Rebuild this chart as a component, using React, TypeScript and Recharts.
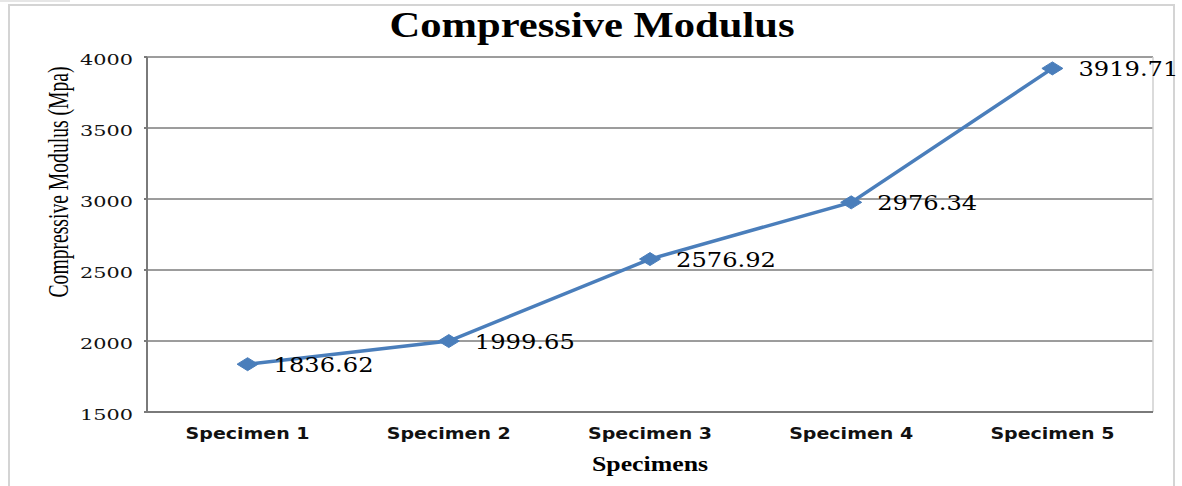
import React from 'react';
import {
    LineChart,
    Line,
    XAxis,
    YAxis,
    CartesianGrid,
    LabelList,
    Customized,
} from 'recharts';

const specimens = ['Specimen 1', 'Specimen 2', 'Specimen 3', 'Specimen 4', 'Specimen 5'];
const modulus = [1836.62, 1999.65, 2576.92, 2976.34, 3919.71];
const yTicks = [1500, 2000, 2500, 3000, 3500, 4000];

const data = specimens.map((name, i) => ({ name, modulus: modulus[i] }));

const BLUE = '#4a7ebb';
const SERIF = '"Liberation Serif", "DejaVu Serif", serif';
const NUM = '"DejaVu Serif", "Liberation Serif", serif';
const SANS = '"DejaVu Sans", Verdana, sans-serif';

const YTick = (props: any) => {
    const { x, y, payload } = props;
    return (
        <text
            x={x}
            y={y + 8}
            textAnchor="end"
            fontFamily={NUM}
            fontSize={15}
            fill="#111"
            textLength={53}
            lengthAdjust="spacingAndGlyphs"
        >
            {payload.value}
        </text>
    );
};

const XTick = (props: any) => {
    const { x, payload } = props;
    return (
        <text
            x={x - 62}
            y={439}
            fontFamily={SANS}
            fontWeight="bold"
            fontSize={15.5}
            fill="#111"
            textLength={124}
            lengthAdjust="spacingAndGlyphs"
        >
            {payload.value}
        </text>
    );
};

const Diamond = (props: any) => {
    const { cx, cy, index } = props;
    if (cx == null || cy == null) return <g key={index} />;
    return (
        <path
            key={index}
            d={`M${cx - 10.5},${cy} L${cx},${cy - 6.5} L${cx + 10.5},${cy} L${cx},${cy + 6.5} Z`}
            fill={BLUE}
            stroke={BLUE}
            strokeWidth={1}
        />
    );
};

const ValueLabel = (props: any) => {
    const { x, y, value } = props;
    return (
        <text
            x={x + 26}
            y={y + 8}
            fontFamily={NUM}
            fontSize={20}
            fill="#000"
            textLength={100}
            lengthAdjust="spacingAndGlyphs"
        >
            {value}
        </text>
    );
};

const Titles = () => (
    <g>
        <text
            x={592}
            y={37}
            textAnchor="middle"
            fontFamily={SERIF}
            fontWeight="bold"
            fontSize={35}
            fill="#000"
            textLength={405}
            lengthAdjust="spacingAndGlyphs"
        >
            Compressive Modulus
        </text>
        <text
            x={650}
            y={471}
            textAnchor="middle"
            fontFamily={SERIF}
            fontWeight="bold"
            fontSize={20}
            fill="#000"
            textLength={116}
            lengthAdjust="spacingAndGlyphs"
        >
            Specimens
        </text>
        {/* glyphs in the source image are stretched sideways, so scale the rotated text's height */}
        <text
            transform="translate(68,182) rotate(-90) scale(1,1.45)"
            textAnchor="middle"
            fontFamily={SERIF}
            fontSize={21}
            fill="#000"
            textLength={231}
            lengthAdjust="spacingAndGlyphs"
        >
            Compressive Modulus (Mpa)
        </text>
    </g>
);

export default function App() {
    return (
        <div style={{ position: 'absolute', left: 0, top: 0, width: 1182, height: 486, background: '#fff' }}>
            <div style={{ position: 'absolute', left: 0, top: 0, width: 70, height: 2, background: '#e6e6e6' }} />
            <div
                style={{
                    position: 'absolute',
                    left: 8,
                    top: 4,
                    width: 1167,
                    height: 500,
                    borderTop: '2px solid #d4d4d4',
                    borderLeft: '2px solid #d4d4d4',
                    borderRight: '2px solid #d4d4d4',
                    boxSizing: 'border-box',
                }}
            />
            <LineChart
                width={1182}
                height={486}
                data={data}
                margin={{ top: 57, right: 29, bottom: 44, left: 0 }}
                style={{ position: 'absolute', left: 0, top: 0 }}
            >
                <CartesianGrid vertical={false} stroke="#3a3a3a" strokeWidth={1} />
                <CartesianGrid horizontal={false} verticalPoints={[1153]} stroke="#cfcfcf" strokeWidth={1.5} />
                <XAxis
                    dataKey="name"
                    scale="band"
                    height={30}
                    tick={<XTick />}
                    tickLine={false}
                    axisLine={{ stroke: '#7a7a7a', strokeWidth: 2 }}
                    interval={0}
                />
                <YAxis
                    width={147}
                    domain={[1500, 4000]}
                    ticks={yTicks}
                    tick={<YTick />}
                    tickSize={3}
                    tickMargin={11}
                    tickLine={{ stroke: '#7a7a7a', strokeWidth: 2 }}
                    axisLine={{ stroke: '#7a7a7a', strokeWidth: 2 }}
                    interval={0}
                />
                <Line
                    dataKey="modulus"
                    stroke={BLUE}
                    strokeWidth={3.5}
                    dot={<Diamond />}
                    activeDot={false}
                    isAnimationActive={false}
                >
                    <LabelList dataKey="modulus" content={<ValueLabel />} />
                </Line>
                <Customized component={Titles} />
            </LineChart>
        </div>
    );
}
